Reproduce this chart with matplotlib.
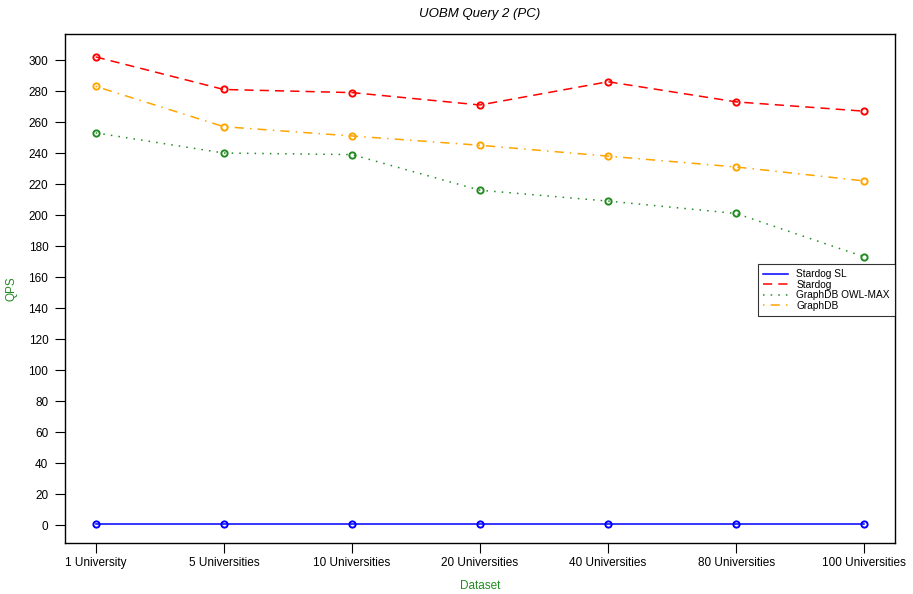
import matplotlib
matplotlib.use("Agg")
import matplotlib.pyplot as plt
import numpy as np

plt.rcParams["font.family"] = ["Liberation Sans", "DejaVu Sans"]

datasets = ["1 University", "5 Universities", "10 Universities", "20 Universities",
            "40 Universities", "80 Universities", "100 Universities"]
stardog_sl = [0.5, 0.5, 0.5, 0.5, 0.5, 0.5, 0.5]
stardog = [302, 281, 279, 271, 286, 273, 267]
graphdb_owlmax = [253, 240, 239, 216, 209, 201, 173]
graphdb = [283, 257, 251, 245, 238, 231, 222]

series = [
    ("Stardog SL", stardog_sl, "blue", "-"),
    ("Stardog", stardog, "red", (0, (6, 4))),
    ("GraphDB OWL-MAX", graphdb_owlmax, "#228B22", (0, (1, 4))),
    ("GraphDB", graphdb, "orange", (0, (1, 4, 6, 4))),
]

fig = plt.figure(figsize=(9.13, 5.94), dpi=100)
ax = fig.add_axes([65 / 913, 51 / 594, 830 / 913, 509 / 594])

x = np.arange(1, len(datasets) + 1)
for name, vals, col, ls in series:
    ax.plot(x, vals, color=col, linestyle=ls, linewidth=1.1, label=name)
    ax.plot(x, vals, color=col, linestyle="none", marker="o", markersize=4.5,
            markerfacecolor="none", markeredgewidth=1.4)

ax.set_xlim(0.76, 7.24)
ax.set_ylim(-11.6, 316.8)
ax.set_xticks(x)
ax.set_xticklabels(datasets, fontsize=8.5)
ax.set_yticks(np.arange(0, 301, 20))
ax.tick_params(axis="y", labelsize=8.5, length=7, direction="out", pad=5)
ax.tick_params(axis="x", length=7, direction="out", pad=3)
for s in ax.spines.values():
    s.set_linewidth(1.0)

ax.set_xlabel("Dataset", color="#228B22", fontsize=8.5, labelpad=8)
ax.set_ylabel("QPS", color="#228B22", fontsize=8.5, labelpad=8)
ax.set_title("UOBM Query 2 (PC)", fontstyle="italic", fontsize=9.5, pad=12)

leg = ax.legend(loc="upper right", bbox_to_anchor=(1.0, 0.548), fontsize=7.3,
                frameon=True, fancybox=False, edgecolor="black", handlelength=2.5,
                borderpad=0.5, labelspacing=0.05, borderaxespad=0)
leg.get_frame().set_linewidth(0.8)

fig.savefig("out.png", dpi=100)
